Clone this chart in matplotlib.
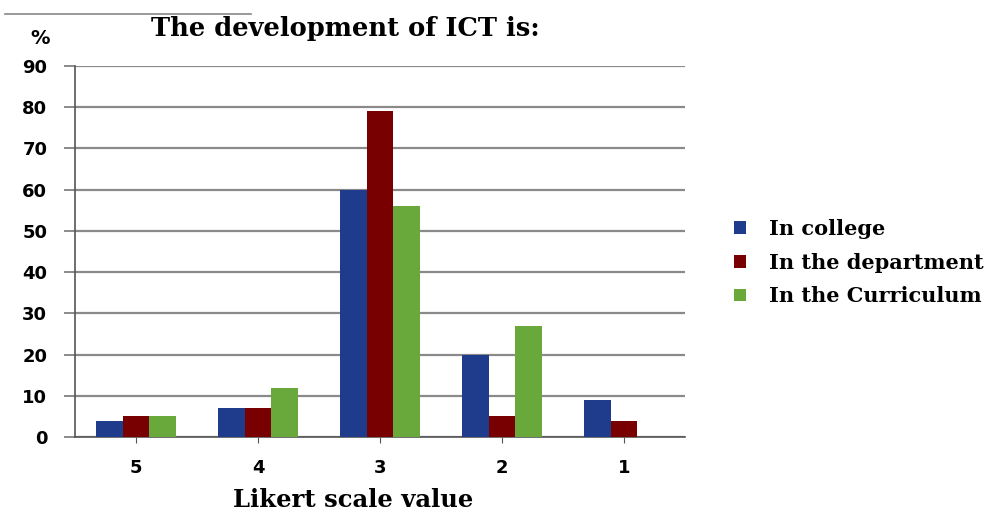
import matplotlib.pyplot as plt
import numpy as np

categories = ["5", "4", "3", "2", "1"]
in_college = [4, 7, 60, 20, 9]
in_department = [5, 7, 79, 5, 4]
in_curriculum = [5, 12, 56, 27, 0]
series_names = ["In college", "In the department", "In the Curriculum"]
colors = ["#1f3b8c", "#780000", "#69a83a"]

fig = plt.figure(figsize=(10.02, 5.14), dpi=100)
ax = fig.add_axes([0.0749, 0.1498, 0.6088, 0.7218])

x = np.arange(len(categories))
w = 0.22
for i, (vals, name, c) in enumerate(zip([in_college, in_department, in_curriculum], series_names, colors)):
    ax.bar(x + (i - 1) * w, vals, width=w, color=c, label=name, zorder=3)

ax.set_xlim(-0.5, len(categories) - 0.5)
ax.set_ylim(0, 90)
ax.set_yticks(range(0, 91, 10))
ax.set_xticks(x)
ax.set_xticklabels(categories)
ax.grid(axis="y", color="#8a8a8a", linewidth=1.6, zorder=0)
for s in ["top", "right"]:
    ax.spines[s].set_visible(False)
ax.spines["left"].set_color("#555555")
ax.spines["bottom"].set_color("#555555")
ax.spines["left"].set_linewidth(1.2)
ax.spines["bottom"].set_linewidth(1.2)
ax.tick_params(axis="y", length=8, color="#777777", width=1.2, pad=12)
ax.tick_params(axis="x", length=4, color="#555555", pad=12)
for lab in ax.get_xticklabels() + ax.get_yticklabels():
    lab.set_fontfamily("DejaVu Sans")
    lab.set_fontweight("heavy")
    lab.set_fontsize(13)

fig.text(0.040, 0.925, "%", fontsize=14, fontweight="bold", family="DejaVu Sans", ha="center", va="center")
fig.text(0.345, 0.945, "The development of ICT is:", fontsize=18.5, fontweight="bold",
         family="DejaVu Serif", ha="center", va="center")
fig.text(0.352, 0.027, "Likert scale value", fontsize=17.5, fontweight="bold",
         family="DejaVu Serif", ha="center", va="center")

# fragment of frame line at top
fig.add_artist(plt.Line2D([0.005, 0.25], [0.973, 0.973], color="#888888", linewidth=1.2))

ax.legend(loc="center left", bbox_to_anchor=(1.05, 0.47), frameon=False,
          prop={"family": "DejaVu Serif", "weight": "bold", "size": 15},
          handlelength=0.55, handleheight=0.55, handletextpad=1.1, labelspacing=0.65)

fig.savefig("out.png", dpi=100)
